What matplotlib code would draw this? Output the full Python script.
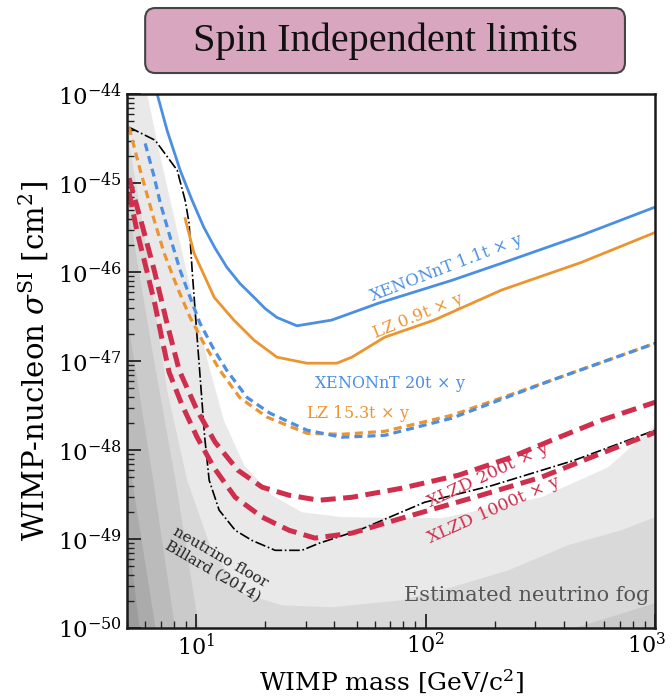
import matplotlib
matplotlib.use("Agg")
import matplotlib.pyplot as plt
from matplotlib.patches import FancyBboxPatch
from matplotlib.transforms import ScaledTranslation

plt.rcParams['font.family'] = ['DejaVu Serif']
plt.rcParams['mathtext.fontset'] = 'dejavuserif'

# limit curves (mass in GeV/c^2, cross section in cm^2)
xenon_1t_mass = [6.77, 7.48, 8.52, 9.61, 10.8, 12.1, 13.6, 15.5, 17.9, 20.0, 22.5, 27.5, 39.0, 62.5, 130, 214, 477, 1000]
xenon_1t_xs = [1.0e-44, 3.9e-45, 1.4e-45, 6.4e-46, 3.2e-46, 1.86e-46, 1.14e-46, 7.5e-47, 5.2e-47, 3.9e-47,
               3.1e-47, 2.5e-47, 2.9e-47, 4.5e-47, 8.1e-47, 1.26e-46, 2.6e-46, 5.4e-46]

lz_09t_mass = [8.96, 9.80, 12.0, 14.6, 17.9, 22.5, 30.4, 41.0, 47.7, 66.3, 109, 214, 477, 1000]
lz_09t_xs = [4.0e-46, 1.63e-46, 5.2e-47, 2.9e-47, 1.72e-47, 1.11e-47, 9.5e-48, 9.5e-48, 1.11e-47, 1.86e-47,
             2.9e-47, 6.3e-47, 1.29e-46, 2.8e-46]

xenon_20t_mass = [6.00, 6.57, 6.98, 7.71, 8.52, 9.42, 10.4, 12.0, 13.6, 16.7, 21.0, 30.4, 43.1, 66.3, 130, 353, 1000]
xenon_20t_xs = [2.8e-45, 1.17e-45, 6.0e-46, 2.47e-46, 1.05e-46, 5.2e-47, 2.67e-47, 1.33e-47, 7.9e-48, 3.9e-48,
                2.6e-48, 1.68e-48, 1.40e-48, 1.47e-48, 2.29e-48, 6.1e-48, 1.59e-47]

lz_153t_mass = [5.1, 5.71, 6.57, 7.26, 8.27, 9.42, 10.8, 12.7, 15.5, 20.4, 30.4, 43.1, 66.3, 130, 353, 1000]
lz_153t_xs = [4.26e-45, 1.40e-45, 3.84e-46, 1.63e-46, 6.8e-47, 3.1e-47, 1.59e-47, 7.9e-48, 3.9e-48, 2.35e-48,
              1.55e-48, 1.51e-48, 1.63e-48, 2.47e-48, 6.1e-48, 1.59e-47]

floor_mass = [5.1, 6.63, 8.27, 8.96, 9.32, 9.61, 10.1, 10.9, 11.4, 12.6, 14.8, 17.5, 22.1, 28.9, 34.3, 51.1,
              99.0, 194, 444, 1000]
floor_xs = [4.26e-45, 3.04e-45, 1.40e-45, 6.4e-46, 3.56e-46, 1.05e-46, 1.86e-47, 1.40e-48, 4.6e-49, 2.12e-49,
            1.26e-49, 9.7e-50, 7.5e-50, 7.5e-50, 9.0e-50, 1.26e-49, 2.6e-49, 4.0e-49, 7.7e-49, 1.68e-48]

xlzd_200t_mass = [5.1, 5.82, 6.57, 7.41, 8.44, 10.1, 12.1, 15.2, 19.4, 25.4, 34.3, 47.7, 78.6, 139, 230, 353, 582, 1000]
xlzd_200t_xs = [1.14e-45, 3.38e-46, 1.05e-46, 2.89e-47, 7.9e-48, 2.81e-48, 1.23e-48, 5.96e-49, 3.84e-49, 3.12e-49,
                2.74e-49, 2.96e-49, 3.74e-49, 5.24e-49, 8.13e-49, 1.29e-48, 2.17e-48, 3.46e-48]

xlzd_1000t_mass = [5.1, 5.54, 6.12, 6.63, 7.12, 7.63, 8.69, 10.1, 12.0, 14.8, 19.4, 25.4, 32.9, 47.7, 78.6, 163,
                   319, 527, 1000]
xlzd_1000t_xs = [7.9e-46, 2.81e-46, 1.0e-46, 4.26e-47, 1.72e-47, 7.5e-48, 3.21e-48, 1.40e-48, 6.28e-49, 2.96e-49,
                 1.77e-49, 1.26e-49, 1.03e-49, 1.17e-49, 1.72e-49, 2.96e-49, 4.97e-49, 8.34e-49, 1.59e-48]

# neutrino fog bands (upper edges, lightest first)
fog1_mass = [5.0, 6.12, 7.12, 8.27, 9.61, 11.2, 13.2, 16.2, 21.4, 28.9, 43.1, 117, 319, 625, 1000]
fog1_xs = [3e-44, 1.0e-44, 1.59e-45, 2.97e-46, 5.52e-47, 1.03e-47, 2.17e-48, 6.78e-49, 3.12e-49, 2.01e-49,
           1.77e-49, 1.72e-49, 2.96e-49, 6.44e-49, 1.91e-48]
fog2_mass = [5.0, 5.82, 6.44, 7.48, 9.14, 11.7, 15.8, 23.7, 39.0, 78.6, 130, 230, 418, 712, 1000]
fog2_xs = [3.94e-45, 3.84e-46, 6.28e-47, 4.72e-48, 4.6e-49, 7.5e-50, 2.47e-50, 1.81e-50, 1.72e-50, 2.06e-50,
           2.89e-50, 4.48e-50, 8.57e-50, 1.26e-49, 1.77e-49]
fog3_mass = [5.0, 6.44, 8.27, 10.3, 13.0, 78.6, 444, 1000]
fog3_xs = [6.4e-46, 1.33e-47, 3.56e-49, 1.0e-50, 9e-52, 9e-52, 1.0e-50, 1.91e-50]
fog4_mass = [5.0, 6.50, 8.10, 9.14]
fog4_xs = [3.3e-47, 4.6e-49, 1.0e-50, 9e-52]
fog5_mass = [5.0, 6.63, 7.48]
fog5_xs = [1.0e-48, 1.0e-50, 9e-52]
fog6_mass = [5.0, 5.65, 6.12]
fog6_xs = [1.26e-49, 1.0e-50, 9e-52]

x_ticks = [10, 100, 1000]
y_ticks = [1e-50, 1e-49, 1e-48, 1e-47, 1e-46, 1e-45, 1e-44]

blue = '#4a8fe2'
orange = '#ec9530'
red = '#cf2e4c'

fig = plt.figure(figsize=(6.72, 6.98), dpi=100)
ax = fig.add_axes([0.189, 0.100, 0.786, 0.765])

fogs = [(fog1_mass, fog1_xs, '#e9e9e9'), (fog2_mass, fog2_xs, '#d9d9d9'), (fog3_mass, fog3_xs, '#cacaca'),
        (fog4_mass, fog4_xs, '#bbbbbb'), (fog5_mass, fog5_xs, '#ababab'), (fog6_mass, fog6_xs, '#9c9c9c')]
for m, s, c in fogs:
    ax.fill_between(m, s, 1e-55, color=c, lw=0, zorder=1)

ax.plot(xenon_1t_mass, xenon_1t_xs, color=blue, lw=2.0, zorder=4)
ax.plot(lz_09t_mass, lz_09t_xs, color=orange, lw=2.0, zorder=4)
ax.plot(lz_153t_mass, lz_153t_xs, color=orange, lw=2.3, dashes=(2.5, 1.6), zorder=4)
ax.plot(xenon_20t_mass, xenon_20t_xs, color=blue, lw=2.3, dashes=(2.5, 1.6), zorder=4)
ax.plot(floor_mass, floor_xs, color='black', lw=1.2, ls='-.', zorder=3)
ax.plot(xlzd_200t_mass, xlzd_200t_xs, color=red, lw=3.6, dashes=(3.0, 1.5), zorder=5)
ax.plot(xlzd_1000t_mass, xlzd_1000t_xs, color=red, lw=3.6, dashes=(3.0, 1.5), zorder=5)

times = r'$\,\times\,$'
ax.text(123, 1.11e-46, 'XENONnT 1.1t' + times + 'y', color=blue, fontsize=12, rotation=21,
        ha='center', va='center', zorder=6)
ax.text(93, 3.2e-47, 'LZ 0.9t' + times + 'y', color=orange, fontsize=12, rotation=22,
        ha='center', va='center', zorder=6)
ax.text(150, 5.6e-48, 'XENONnT 20t' + times + 'y', color=blue, fontsize=11.5,
        ha='right', va='center', zorder=6)
ax.text(30.0, 2.6e-48, 'LZ 15.3t' + times + 'y', color=orange, fontsize=11.5,
        ha='left', va='center', zorder=6)
ax.text(188, 5.24e-49, 'XLZD 200t' + times + 'y', color=red, fontsize=12.5, rotation=25,
        ha='center', va='center', zorder=6)
ax.text(198, 2.12e-49, 'XLZD 1000t' + times + 'y', color=red, fontsize=12.5, rotation=24,
        ha='center', va='center', zorder=6)
ax.text(12.3, 5.2e-50, 'neutrino floor\nBillard (2014)', color='#222222', fontsize=11, rotation=-30,
        ha='center', va='center', multialignment='center', rotation_mode='anchor', zorder=6)
ax.text(945, 2.35e-50, 'Estimated neutrino fog', color='#555555', fontsize=15,
        ha='right', va='center', zorder=6)

ax.set_xscale('log')
ax.set_yscale('log')
ax.set_xticks(x_ticks)
ax.set_yticks(y_ticks)
ax.set_xlim(5, 1000)
ax.set_ylim(1e-50, 1e-44)
ax.set_xlabel(r'WIMP mass [GeV/c$^2$]', fontsize=18, labelpad=6)
ax.set_ylabel(r'WIMP-nucleon $\sigma^{\rm SI}$ [cm$^2$]', fontsize=21, labelpad=5)
ax.tick_params(which='both', direction='in', top=False, right=False, color='#222222')
ax.tick_params(axis='y', labelsize=16.5)
ax.tick_params(axis='x', labelsize=16)
ax.tick_params(which='major', length=10, width=1.3)
ax.tick_params(which='minor', length=5, width=1.0)
for sp in ax.spines.values():
    sp.set_linewidth(1.8)
    sp.set_color('#1a1a1a')
    sp.set_zorder(10)

# nudge the 10^3 label so it stays inside the figure
last = ax.get_xticklabels()[-1]
last.set_transform(last.get_transform() + ScaledTranslation(-6 / 72, 0, fig.dpi_scale_trans))

# title box
box = FancyBboxPatch((0.216, 0.8954), 0.714, 0.0931, boxstyle='round,pad=0,rounding_size=0.015',
                     transform=fig.transFigure, facecolor='#d9a6c0', edgecolor='#444444', lw=1.5)
fig.patches.append(box)
fig.text(0.573, 0.941, 'Spin Independent limits', fontsize=29, family='Liberation Serif',
         ha='center', va='center', color='#111111')

fig.savefig('out.png', dpi=100)
